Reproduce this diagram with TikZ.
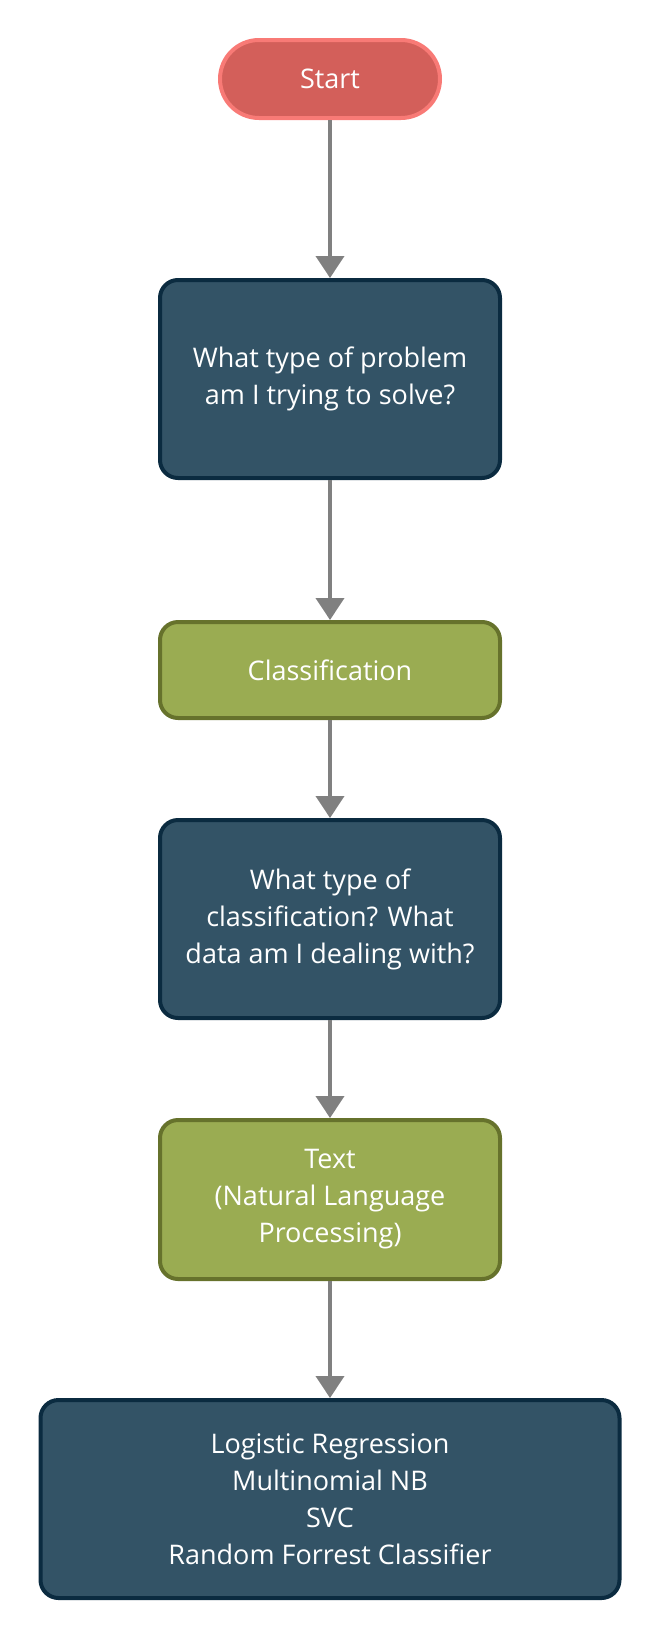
\documentclass[tikz,border=0pt]{standalone}
\usepackage{fontspec}
\setmainfont{Open Sans}
\usepackage{xcolor}
\usetikzlibrary{arrows.meta}

\definecolor{startfill}{HTML}{D35F5A}
\definecolor{startline}{HTML}{F87A76}
\definecolor{askfill}{HTML}{335366}
\definecolor{askline}{HTML}{0B2B40}
\definecolor{pickfill}{HTML}{9AAC52}
\definecolor{pickline}{HTML}{66722C}
\definecolor{flow}{HTML}{808080}

\begin{document}
\begin{tikzpicture}[x=1pt,y=-1pt,
    every node/.style={text=white,align=center,
      font=\fontsize{27}{37}\selectfont,line width=4pt},
    startbox/.style={draw=startline,fill=startfill,rounded corners=39pt,
      minimum width=220pt,minimum height=78pt},
    askbox/.style={draw=askline,fill=askfill,rounded corners=18pt,
      minimum width=340pt,minimum height=198pt},
    pickbox/.style={draw=pickline,fill=pickfill,rounded corners=18pt,
      minimum width=340pt},
    flowline/.style={draw=flow,line width=4pt,
      -{Triangle[width=28pt,length=22pt]}}]
  \useasboundingbox (0,0) rectangle (661,1641);

  \node (st) [startbox] at (330,79) {Start};
  \node (q1) [askbox] at (330,379) {What type of problem\\am I trying to solve?};
  \node (cl) [pickbox,minimum height=96pt] at (330,670) {Classification};
  \node (q2) [askbox] at (330,919)
    {What type of\\classification? What\\data am I dealing with?};
  \node (tx) [pickbox,minimum height=159pt] at (330,1199.5)
    {Text\\(Natural Language\\Processing)};
  \node (ml) [askbox,minimum width=579pt] at (330,1499)
    {Logistic Regression\\Multinomial NB\\SVC\\Random Forrest Classifier};

  \draw[flowline] (st) -- (q1);
  \draw[flowline] (q1) -- (cl);
  \draw[flowline] (cl) -- (q2);
  \draw[flowline] (q2) -- (tx);
  \draw[flowline] (tx) -- (ml);
\end{tikzpicture}
\end{document}
